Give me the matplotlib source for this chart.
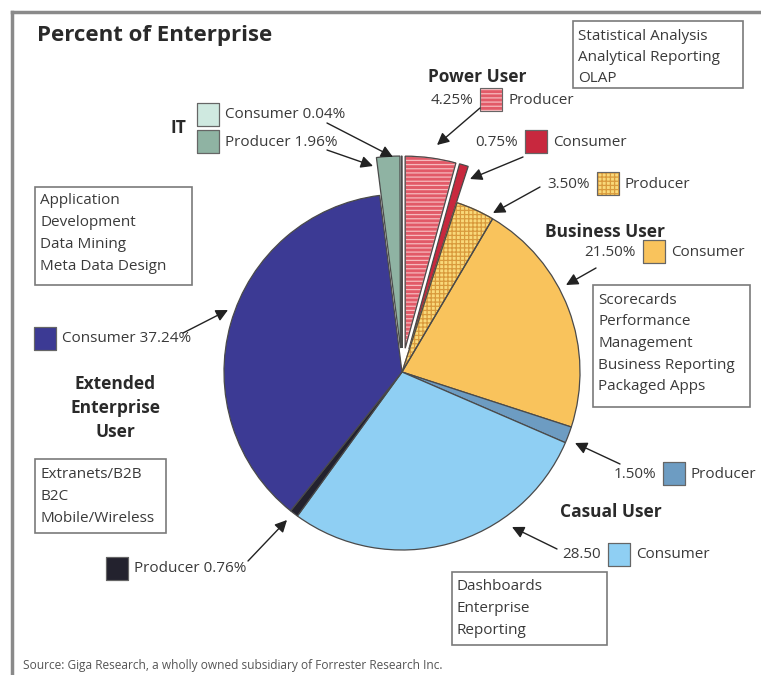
import numpy as np
import matplotlib.pyplot as plt
from matplotlib.patches import Rectangle, Wedge

plt.rcParams['font.family'] = ['Open Sans', 'DejaVu Sans']

W, H = 761, 675

# slices, clockwise from 12 o'clock
groups = ['Power User', 'Power User', 'Business User', 'Business User',
          'Casual User', 'Casual User', 'Extended Enterprise User',
          'Extended Enterprise User', 'IT', 'IT']
roles = ['Producer', 'Consumer', 'Producer', 'Consumer', 'Producer',
         'Consumer', 'Producer', 'Consumer', 'Producer', 'Consumer']
shares = [4.25, 0.75, 3.50, 21.50, 1.50, 28.50, 0.76, 37.24, 1.96, 0.04]
pct_labels = ['4.25%', '0.75%', '3.50%', '21.50%', '1.50%', '28.50',
              '0.76%', '37.24%', '1.96%', '0.04%']

power_uses = ['Statistical Analysis', 'Analytical Reporting', 'OLAP']
it_uses = ['Application', 'Development', 'Data Mining', 'Meta Data Design']
business_uses = ['Scorecards', 'Performance', 'Management',
                 'Business Reporting', 'Packaged Apps']
extended_uses = ['Extranets/B2B', 'B2C', 'Mobile/Wireless']
casual_uses = ['Dashboards', 'Enterprise', 'Reporting']

source = 'Source: Giga Research, a wholly owned subsidiary of Forrester Research Inc.'

# styles
colors = ['#e25a68', '#c8283e', '#f9d97a', '#f9c35c', '#6d9cc2',
          '#8fcff3', '#23222e', '#3c3a94', '#8fb3a3', '#cfe9e0']
hatches = ['----', None, '++++', None, None, None, None, None, None, None]
hatch_colors = ['#f6b9bd', None, '#d99a3c', None, None, None, None, None, None, None]
pulled = ['Power User', 'IT']

plt.rcParams['hatch.linewidth'] = 0.9


def py(y):
    # pixel row (from top) -> data y
    return H - y


fig = plt.figure(figsize=(W / 100, H / 100), dpi=100)
ax = fig.add_axes([0, 0, 1, 1])

explode = [24 if g in pulled else 0 for g in groups]
wedges, _ = ax.pie(shares, colors=colors, startangle=90, counterclock=False,
                   center=(402, py(372)), radius=178, explode=explode,
                   wedgeprops=dict(edgecolor='#4a4a4a', linewidth=0.9))

for i, w in enumerate(wedges):
    if groups[i] in pulled:
        w.set_radius(192)
    if hatches[i]:
        w.set_hatch(hatches[i])
        w.set_edgecolor(hatch_colors[i])
        ax.add_patch(Wedge(w.center, w.r, w.theta1, w.theta2, fill=False,
                           edgecolor='#4a4a4a', linewidth=0.9, zorder=w.get_zorder()))

ax.set_xlim(0, W)
ax.set_ylim(0, H)
ax.set_aspect('equal')
ax.axis('off')

# outer frame (runs off the right and bottom)
ax.plot([12, 12], [py(12), py(700)], color='#8a8a8a', lw=2.5)
ax.plot([12, 800], [py(12), py(12)], color='#8a8a8a', lw=2.5)

ax.text(37, py(35), 'Percent of Enterprise', fontsize=16, fontweight='bold',
        color='#2a2a2a', va='center', ha='left')

text_kw = dict(fontsize=11, color='#3a3a3a', va='center')


def swatch(x, y, i):
    ax.add_patch(Rectangle((x, py(y + 23)), 22, 23, facecolor=colors[i],
                           hatch=hatches[i],
                           edgecolor=hatch_colors[i] or '#555555', lw=0.8))
    ax.add_patch(Rectangle((x, py(y + 23)), 22, 23, fill=False,
                           edgecolor='#666666', lw=0.8))


# legend swatches + arrows
swatch_xy = [(480, 88), (525, 130), (597, 172), (643, 240), (663, 462),
             (608, 543), (106, 557), (34, 327), (197, 130), (197, 103)]
arrow_tails = [(480, 108), (523, 157), (540, 187), (596, 268), (620, 464),
               (557, 549), (248, 561), (183, 333), (327, 150), (327, 123)]
arrow_heads = [(437, 145), (470, 179), (493, 213), (566, 285), (575, 443),
               (512, 527), (287, 520), (228, 310), (373, 166), (393, 157)]

for i in range(len(shares)):
    sx, sy = swatch_xy[i]
    swatch(sx, sy, i)
    yc = py(sy + 12)
    if sx > 400:
        ax.text(sx - 7, yc, pct_labels[i], ha='right', **text_kw)
        ax.text(sx + 28, yc, roles[i], ha='left', **text_kw)
    else:
        ax.text(sx + 28, yc, roles[i] + ' ' + pct_labels[i], ha='left', **text_kw)
    tx, ty = arrow_tails[i]
    hx, hy = arrow_heads[i]
    ax.annotate('', xy=(hx, py(hy)), xytext=(tx, py(ty)),
                arrowprops=dict(arrowstyle='-|>', color='#222222', lw=1.0,
                                mutation_scale=18, shrinkA=0, shrinkB=0))

# group names
bold_kw = dict(fontsize=12.5, fontweight='bold', color='#2a2a2a',
               ha='center', va='center')
ax.text(178, py(128), 'IT', **bold_kw)
ax.text(477, py(77), 'Power User', **bold_kw)
ax.text(605, py(232), 'Business User', **bold_kw)
ax.text(115, py(408), 'Extended\nEnterprise\nUser', linespacing=1.45, **bold_kw)
ax.text(611, py(512), 'Casual User', **bold_kw)


def usage_box(x0, y0, x1, y1, lines, first, step):
    ax.add_patch(Rectangle((x0, py(y1)), x1 - x0, y1 - y0, fill=False,
                           edgecolor='#7a7a7a', lw=1.2))
    for k, s in enumerate(lines):
        ax.text(x0 + 5, py(first + k * step), s, ha='left', **text_kw)


usage_box(573, 21, 743, 88, power_uses, 37, 20.5)
usage_box(35, 187, 192, 285, it_uses, 200, 22.3)
usage_box(593, 285, 750, 407, business_uses, 300, 21.7)
usage_box(35, 459, 166, 533, extended_uses, 474, 22.3)
usage_box(452, 572, 607, 645, casual_uses, 586, 22.3)

ax.text(23, py(665), source, fontsize=8.6, color='#555555', ha='left', va='center')

fig.savefig('out.png', dpi=100)
